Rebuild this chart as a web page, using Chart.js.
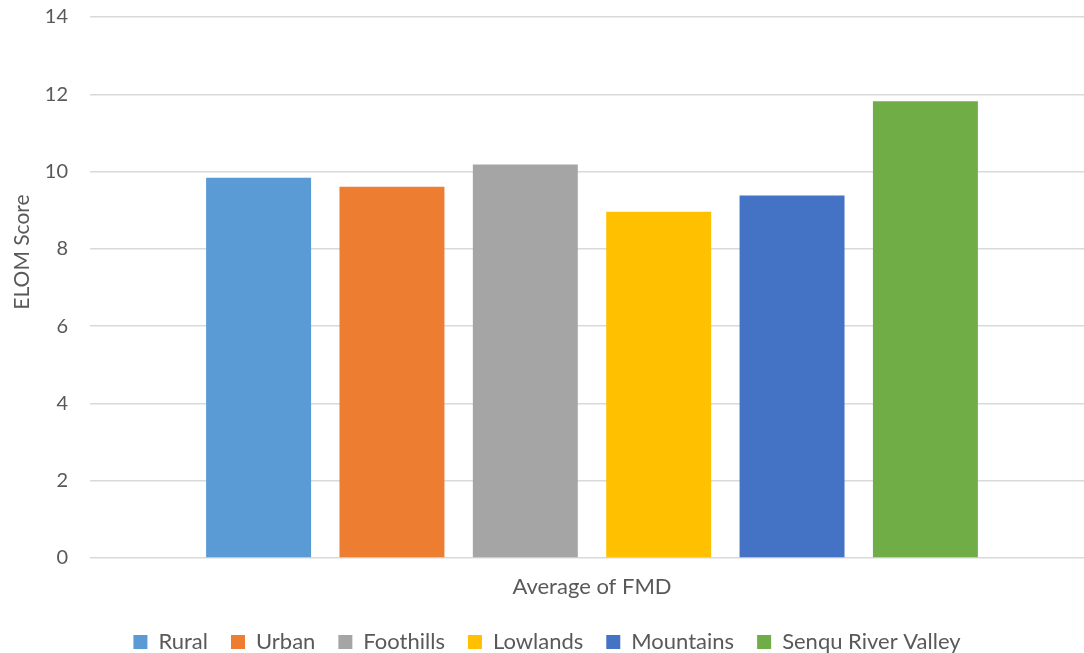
<!DOCTYPE html>
<html>
<head>
<meta charset="utf-8">
<script src="https://cdn.jsdelivr.net/npm/chart.js@4/dist/chart.umd.min.js"></script>
<style>
  html, body { margin: 0; padding: 0; background: #ffffff; overflow: hidden; }
  #wrap { width: 1084px; height: 653px; position: relative; overflow: hidden; }
</style>
</head>
<body>
<div id="wrap"><canvas id="chart" width="1100" height="663"></canvas></div>
<script>
// Categories, series and tick labels
const categories = ['Average of FMD'];
const regions = ['Rural', 'Urban', 'Foothills', 'Lowlands', 'Mountains', 'Senqu River Valley'];
const elomScores = [9.84, 9.61, 10.18, 8.96, 9.38, 11.82];
const yTickValues = [0, 2, 4, 6, 8, 10, 12, 14];
const yAxisTitle = 'ELOM Score';

const regionColors = ['#5B9BD5', '#ED7D31', '#A5A5A5', '#FFC000', '#4472C4', '#70AD47'];
const textColor = '#595959';
const fontFamily = 'Lato, "Open Sans", sans-serif';

const datasets = regions.map((name, i) => ({
  label: name,
  data: [elomScores[i]],
  backgroundColor: regionColors[i],
  borderWidth: 0,
  barPercentage: 0.787,
  categoryPercentage: 0.797
}));

// Vertical axis title, centred a little above the middle of the plot
const yTitlePlugin = {
  id: 'yTitle',
  afterDraw(chart) {
    const ctx = chart.ctx;
    ctx.save();
    ctx.translate(22, 252);
    ctx.rotate(-Math.PI / 2);
    ctx.font = '21px ' + fontFamily;
    ctx.fillStyle = textColor;
    ctx.textAlign = 'center';
    ctx.textBaseline = 'middle';
    ctx.fillText(yAxisTitle, 0, 0);
    ctx.restore();
  }
};

new Chart(document.getElementById('chart'), {
  type: 'bar',
  data: { labels: categories, datasets },
  plugins: [yTitlePlugin],
  options: {
    responsive: false,
    animation: false,
    devicePixelRatio: 1,
    layout: { padding: { top: 0, right: 6, left: 0, bottom: 0 } },
    plugins: {
      tooltip: { enabled: false },
      legend: {
        position: 'bottom',
        align: 'center',
        labels: {
          boxWidth: 14,
          boxHeight: 14,
          padding: 23,
          color: textColor,
          font: { family: fontFamily, size: 22 }
        }
      }
    },
    scales: {
      x: {
        grid: { display: false },
        border: { display: false },
        ticks: { color: textColor, padding: 8, font: { family: fontFamily, size: 22 } },
        afterFit(scale) { scale.height = 50; }
      },
      y: {
        min: yTickValues[0],
        max: yTickValues[yTickValues.length - 1],
        grid: {
          color: '#d9d9d9',
          lineWidth: 1.5,
          drawTicks: true,
          tickLength: 17,
          tickColor: 'rgba(0,0,0,0)'
        },
        border: { display: false },
        ticks: {
          stepSize: yTickValues[1] - yTickValues[0],
          color: textColor,
          padding: 5,
          font: { family: fontFamily, size: 20 }
        },
        afterFit(scale) { scale.width = 90; }
      }
    }
  }
});
</script>
</body>
</html>
